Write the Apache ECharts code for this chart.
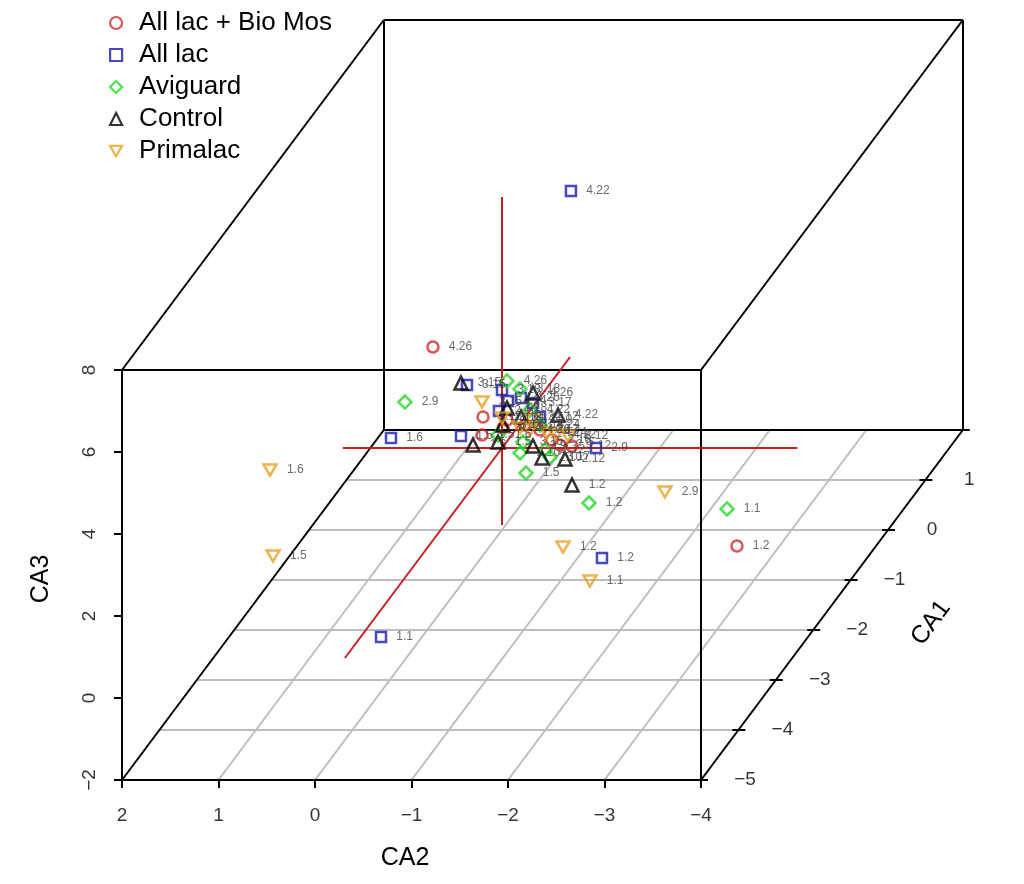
<!DOCTYPE html>
<html>
<head>
<meta charset="utf-8">
<title>CA1 / CA2 / CA3</title>
<script src="https://cdn.jsdelivr.net/npm/echarts@6/dist/echarts.min.js"></script>
<style>
    html, body { margin: 0; padding: 0; background: #fff; }
    #chart { width: 1024px; height: 884px; }
</style>
</head>
<body>
<div id="chart"></div>
<script type="text/javascript">
    // axis ranges and ticks of the 3d box
    var ca1Lim = [-5, 2];
    var ca2Lim = [-4, 2];
    var ca3Lim = [-2, 8];
    var ca1Ticks = [-5, -4, -3, -2, -1, 0, 1, 2];
    var ca2Ticks = [2, 1, 0, -1, -2, -3, -4];
    var ca3Ticks = [-2, 0, 2, 4, 6, 8];

    // red cross through the origin (range of the scores)
    var crossCA1 = [-4.2, 1.82];
    var crossCA2 = [-3.06, 1.65];
    var crossCA3 = [-1.88, 6.12];

    // scores: [CA1, CA2, CA3, sample]
    var allLacBioMos = [
        [0.6, 0.948, 1.732, '4.26'], [-1.6, -3.055, -0.439, '1.2'], [0.3, 0.313, 0.390, '3.15'],
        [-0.5, 0.013, 0.927, '1.5'], [0.4, 0.103, 0.195, '4.22'], [0.3, 0.106, 0.122, '4.24'],
        [0, -0.601, 0.073, '2.9'], [0, -0.725, 0.049, '2.12'], [0.2, -0.161, 0.317, '3.18'],
        [0, -0.518, 0.195, '2.10'], [0.2, -0.316, 0.195, '3.17']
    ];
    var allLac = [
        [0.12, -0.668, 6.12, '4.22'], [-1.5, 0.569, 2.073, '1.6'], [-4.2, -0.374, 0.512, '1.1'],
        [-2.5, -2.005, 0.366, '1.2'], [0.3, -0.858, -0.366, '2.9'], [0.4, 0.518, 1.049, '3.15'],
        [-0.8, 0.115, 1.268, '1.5'], [0.5, 0.194, 0.805, '3.18'], [0.6, 0.036, 0.488, '4.26'],
        [0.5, 0.132, 0.537, '4.24'], [0.2, 0.109, 0.659, '2.10'], [0.4, -0.166, 0.610, '3.17'],
        [0.3, -0.278, 0.390, '2.12']
    ];
    var aviguard = [
        [-1, 0.618, 2.341, '2.9'], [-1.2, -2.797, -0.024, '1.1'], [-1.4, -1.444, 0.366, '1.2'],
        [-0.6, -0.481, 0.122, '1.5'], [1.82, 0.654, -0.585, '4.26'], [0.5, 0.007, 0.829, '3.18'],
        [-0.3, -0.075, 0.683, '1.6'], [0, -0.187, -0.122, '2.10'], [0, -0.446, -0.049, '2.12'],
        [0.2, -0.140, -0.098, '3.15'], [0.5, -0.096, 0.317, '4.22'], [0.4, -0.239, 0.073, '4.24'],
        [0, -0.497, -0.220, '3.17']
    ];
    var control = [
        [0.4, 0.580, 1.098, '3.15'], [-1, -1.113, 0.317, '1.2'], [-0.3, 0.184, 0.439, '1.6'],
        [-0.2, -0.036, 0.390, '1.5'], [0, -0.321, 0.049, '2.9'], [0, -0.415, -0.244, '2.10'],
        [0, -0.653, -0.268, '2.12'], [0.6, -0.089, 0.610, '4.26'], [0.4, 0.103, 0.488, '3.18'],
        [0.4, -0.042, 0.268, '4.24'], [0.5, -0.387, 0.195, '4.22'], [0.2, 0.067, 0.317, '3.17']
    ];
    var primalac = [
        [-1.95, 1.648, 1.841, '1.6'], [-2.2, 1.520, 0.049, '1.5'], [-0.3, -1.805, -0.707, '2.9'],
        [-1.8, -1.330, -0.220, '1.2'], [-1.12, -1.346, -1.878, '1.1'], [0.4, 0.362, 0.634, '3.15'],
        [0.3, 0.116, 0.366, '3.18'], [0.2, -0.213, 0.195, '4.26'], [0.1, -0.428, 0.244, '4.24'],
        [0.1, -0.521, 0.195, '4.22'], [0, -0.684, 0.293, '2.12'], [0.3, -0.195, 0.317, '2.10'],
        [0.2, -0.109, 0.244, '3.17']
    ];

    var FONT = 'Liberation Sans';
    // oblique projection: one CA1 unit moves 37.4px right and 50px up
    var DX = 37.4 / 96.5;
    var DY = 50 / 41;
    function proj(a, b, c) {
        var k = a - ca1Lim[0];
        return [b - k * DX, c + k * DY];
    }
    function seg(p, q) {
        return {coords: [p, q]};
    }
    function minus(v) {
        return v < 0 ? '\u2212' + Math.abs(v) : String(v);
    }

    // box edges
    var corners = [];
    ca1Lim.forEach(function (a) {
        ca2Lim.forEach(function (b) {
            ca3Lim.forEach(function (c) {
                corners.push([a, b, c]);
            });
        });
    });
    var boxLines = [];
    for (var i = 0; i < corners.length; i++) {
        for (var j = i + 1; j < corners.length; j++) {
            var diff = 0;
            for (var d = 0; d < 3; d++) {
                if (corners[i][d] !== corners[j][d]) diff++;
            }
            if (diff === 1) {
                boxLines.push(seg(proj.apply(null, corners[i]), proj.apply(null, corners[j])));
            }
        }
    }
    // ticks
    ca2Ticks.forEach(function (t) {
        var p = proj(ca1Lim[0], t, ca3Lim[0]);
        boxLines.push(seg(p, [p[0], p[1] - 8 / 41]));
    });
    ca3Ticks.forEach(function (t) {
        var p = proj(ca1Lim[0], ca2Lim[1], t);
        boxLines.push(seg(p, [p[0] + 8 / 96.5, p[1]]));
    });
    ca1Ticks.forEach(function (t) {
        var p = proj(t, ca2Lim[0], ca3Lim[0]);
        boxLines.push(seg([p[0] + 6 / 96.5, p[1]], [p[0] - 7 / 96.5, p[1]]));
    });

    // floor grid
    var gridLines = [];
    ca1Ticks.slice(1, -1).forEach(function (t) {
        gridLines.push(seg(proj(t, ca2Lim[1], ca3Lim[0]), proj(t, ca2Lim[0], ca3Lim[0])));
    });
    ca2Ticks.slice(1, -1).forEach(function (t) {
        gridLines.push(seg(proj(ca1Lim[0], t, ca3Lim[0]), proj(ca1Lim[1], t, ca3Lim[0])));
    });

    // red cross
    var crossLines = [
        seg(proj(0, crossCA2[0], 0), proj(0, crossCA2[1], 0)),
        seg(proj(0, 0, crossCA3[0]), proj(0, 0, crossCA3[1])),
        seg(proj(crossCA1[0], 0, 0), proj(crossCA1[1], 0, 0))
    ];

    // tick labels
    var tickLabels = [];
    ca2Ticks.forEach(function (t) {
        var p = proj(ca1Lim[0], t, ca3Lim[0]);
        tickLabels.push({value: [p[0], p[1] - 36 / 41], name: minus(t)});
    });
    ca1Ticks.forEach(function (t) {
        var p = proj(t, ca2Lim[0], ca3Lim[0]);
        tickLabels.push({value: [p[0] - 44 / 96.5, p[1]], name: minus(t)});
    });
    var ca3Labels = ca3Ticks.map(function (t) {
        var p = proj(ca1Lim[0], ca2Lim[1], t);
        return {value: [p[0] + 32 / 96.5, p[1]], name: minus(t)};
    });

    function lineSeries(data, color, width) {
        return {
            type: 'lines',
            coordinateSystem: 'cartesian2d',
            polyline: false,
            silent: true,
            lineStyle: {color: color, width: width, opacity: 1},
            data: data
        };
    }
    function textSeries(data, rotate) {
        return {
            type: 'scatter',
            silent: true,
            symbolSize: 1,
            itemStyle: {color: 'rgba(0,0,0,0)'},
            label: {
                show: true, position: 'inside', formatter: '{b}', rotate: rotate,
                fontFamily: FONT, fontSize: 19, color: '#000'
            },
            data: data
        };
    }
    function pointSeries(name, rows, symbol, size, color) {
        return {
            name: name,
            type: 'scatter',
            symbol: symbol,
            symbolSize: size,
            itemStyle: {color: 'rgba(0,0,0,0)', borderColor: color, borderWidth: 2.5},
            label: {
                show: true, position: 'right', distance: 9, formatter: '{b}',
                fontFamily: FONT, fontSize: 12, color: '#444'
            },
            data: rows.map(function (r) {
                return {value: proj(r[0], r[1], r[2]), name: r[3]};
            })
        };
    }

    var chart = echarts.init(document.getElementById('chart'));
    var option = {
        animation: false,
        backgroundColor: '#fff',
        // 96.5px per CA2 unit, 41px per CA3 unit; CA2=2 sits at x=122, CA3=-2 at y=780
        grid: {left: 6.2, top: 1, width: 984.3, height: 881.5},
        xAxis: {type: 'value', min: -7, max: 3.2, inverse: true, show: false},
        yAxis: {type: 'value', min: -4.5, max: 17, show: false},
        legend: {
            orient: 'vertical',
            left: 104,
            top: 5,
            itemWidth: 12,
            itemHeight: 12,
            itemGap: 6,
            itemStyle: {borderWidth: 2.2},
            formatter: '{t|{name}}',
            textStyle: {
                fontFamily: FONT, fontSize: 26, color: '#000',
                rich: {t: {fontFamily: FONT, fontSize: 26, lineHeight: 25, padding: [0, 0, 0, 12], color: '#000'}}
            },
            data: ['All lac + Bio Mos', 'All lac', 'Aviguard', 'Control', 'Primalac']
        },
        graphic: [
            {type: 'text', x: 405, y: 858, style: {text: 'CA2', font: '25px ' + FONT, fill: '#000', align: 'center', verticalAlign: 'middle'}},
            {type: 'text', x: 41, y: 579, rotation: Math.PI / 2, style: {text: 'CA3', font: '25px ' + FONT, fill: '#000', align: 'center', verticalAlign: 'middle'}},
            {type: 'text', x: 931, y: 623, rotation: Math.atan2(50, 37.4), style: {text: 'CA1', font: '25px ' + FONT, fill: '#000', align: 'center', verticalAlign: 'middle'}}
        ],
        series: [
            lineSeries(gridLines, '#bdbdbd', 2),
            lineSeries(boxLines, '#000', 2),
            lineSeries(crossLines, '#c91f1f', 2),
            textSeries(tickLabels, 0),
            textSeries(ca3Labels, 90),
            pointSeries('All lac + Bio Mos', allLacBioMos, 'circle', 11, '#d22a2a'),
            pointSeries('All lac', allLac, 'rect', 10, '#1a1ab4'),
            pointSeries('Aviguard', aviguard, 'diamond', 13, '#27d627'),
            pointSeries('Control', control, 'triangle', 13, '#000'),
            pointSeries('Primalac', primalac, 'path://M0,0L10,0L5,8.66Z', [13, 11], '#e8a020')
        ]
    };
    chart.setOption(option);
</script>
</body>
</html>
